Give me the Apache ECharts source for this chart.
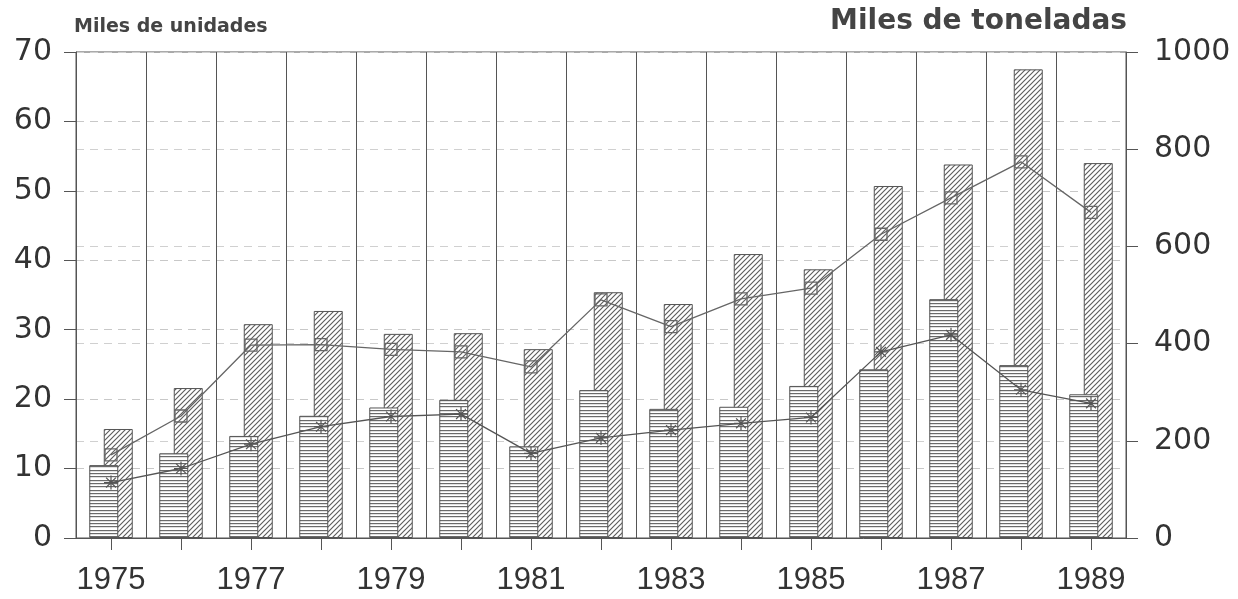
<!DOCTYPE html>
<html><head><meta charset="utf-8">
<script src="https://cdn.jsdelivr.net/npm/echarts@6/dist/echarts.min.js"></script>
<style>html,body{margin:0;padding:0;background:#fff}#c{width:1238px;height:599px}</style>
</head><body><div id="c"></div>
<script>
// ---- data ----
const years = ['1975','1976','1977','1978','1979','1980','1981','1982','1983','1984','1985','1986','1987','1988','1989'];
const barsHoriz = [10.5,12.2,14.7,17.6,18.8,19.9,13.2,21.3,18.6,18.9,21.9,24.3,34.4,24.9,20.7];
const barsDiag  = [15.7,21.6,30.8,32.7,29.4,29.5,27.2,35.4,33.7,40.9,38.7,50.7,53.8,67.5,54.0];
const lineSquares = [171,251,397,398,388,383,352,490,435,492,514,625,700,774,670];
const lineStars   = [114,143,193,229,250,255,174,206,222,236,248,383,418,305,277];
const leftMin = 0, leftMax = 70, leftStep = 10;
const rightMin = 0, rightMax = 1000, rightStep = 200;
const leftTitle = 'Miles de unidades';
const rightTitle = 'Miles de toneladas';

// ---- patterns ----
function hPattern(){
  const c=document.createElement('canvas'); c.width=4; c.height=10;
  const g=c.getContext('2d'); g.fillStyle='#fff'; g.fillRect(0,0,4,10);
  g.fillStyle='#6a6a6a'; [0,3,6].forEach(y=>g.fillRect(0,y,4,1.2));
  return c;
}
function dPattern(){
  const s=5;
  const c=document.createElement('canvas'); c.width=s; c.height=s;
  const g=c.getContext('2d'); g.fillStyle='#fff'; g.fillRect(0,0,s,s);
  g.strokeStyle='#5e5e5e'; g.lineWidth=1.15;
  g.beginPath();
  g.moveTo(-1,s+1); g.lineTo(s+1,-1);
  g.moveTo(-1,1); g.lineTo(1,-1);
  g.moveTo(s-1,s+1); g.lineTo(s+1,s-1);
  g.stroke();
  return c;
}
const star = 'path://M5,0L5,10M0,5L10,5M1.5,1.5L8.5,8.5M8.5,1.5L1.5,8.5';
const axisColor = '#555';

const chart = echarts.init(document.getElementById('c'), null, {renderer:'canvas'});
chart.setOption({
  animation:false,
  backgroundColor:'#fff',
  grid:{left:76,right:112,top:52,bottom:61,show:true,borderColor:axisColor,borderWidth:1,backgroundColor:'transparent'},
  graphic:[
    {type:'text',left:74,top:18,style:{text:leftTitle,font:'bold 19px "DejaVu Sans"',fill:'#444'}},
    {type:'text',right:111,top:8,style:{text:rightTitle,font:'bold 28px "DejaVu Sans"',fill:'#444'}}
  ],
  xAxis:{
    type:'category',data:years,boundaryGap:true,
    axisLine:{lineStyle:{color:axisColor}},
    axisTick:{show:true,alignWithLabel:true,interval:0,length:12,lineStyle:{color:axisColor}},
    axisLabel:{interval:1,margin:27,fontSize:31,fontFamily:'Liberation Sans',color:'#333'},
    splitLine:{show:true,interval:0,lineStyle:{color:'#555',width:1}}
  },
  yAxis:[
    {type:'value',min:leftMin,max:leftMax,interval:leftStep,position:'left',
     axisLine:{show:true,lineStyle:{color:axisColor}},
     axisTick:{show:true,length:12,lineStyle:{color:axisColor}},
     axisLabel:{margin:24,fontSize:30,fontFamily:'DejaVu Sans',color:'#333',formatter:v=>String(v)},
     splitLine:{show:true,lineStyle:{color:'#c8c8c8',type:[8,6],width:1}}},
    {type:'value',min:rightMin,max:rightMax,interval:rightStep,position:'right',
     axisLine:{show:true,lineStyle:{color:axisColor}},
     axisTick:{show:true,length:12,lineStyle:{color:axisColor}},
     axisLabel:{margin:28,fontSize:30,fontFamily:'DejaVu Sans',color:'#333',formatter:v=>String(v)},
     splitLine:{show:true,lineStyle:{color:'#d0d0d0',type:[8,6],width:1}}}
  ],
  series:[
    {type:'bar',data:barsHoriz,yAxisIndex:0,barWidth:29,barGap:'-50%',z:3,
     itemStyle:{color:{image:hPattern(),repeat:'repeat'},borderColor:'#555',borderWidth:1}},
    {type:'bar',data:barsDiag,yAxisIndex:0,barWidth:29,barGap:'-50%',z:2,
     itemStyle:{color:{image:dPattern(),repeat:'repeat'},borderColor:'#555',borderWidth:1}},
    {type:'line',data:lineSquares,yAxisIndex:1,z:5,symbol:'rect',symbolSize:12,
     lineStyle:{color:'#666',width:1.3},
     itemStyle:{color:'rgba(0,0,0,0)',borderColor:'#666',borderWidth:1.3}},
    {type:'line',data:lineStars,yAxisIndex:1,z:5,symbol:star,symbolSize:14,
     lineStyle:{color:'#555',width:1.3},
     itemStyle:{color:'rgba(0,0,0,0)',borderColor:'#555',borderWidth:1.2}}
  ]
});
</script></body></html>
